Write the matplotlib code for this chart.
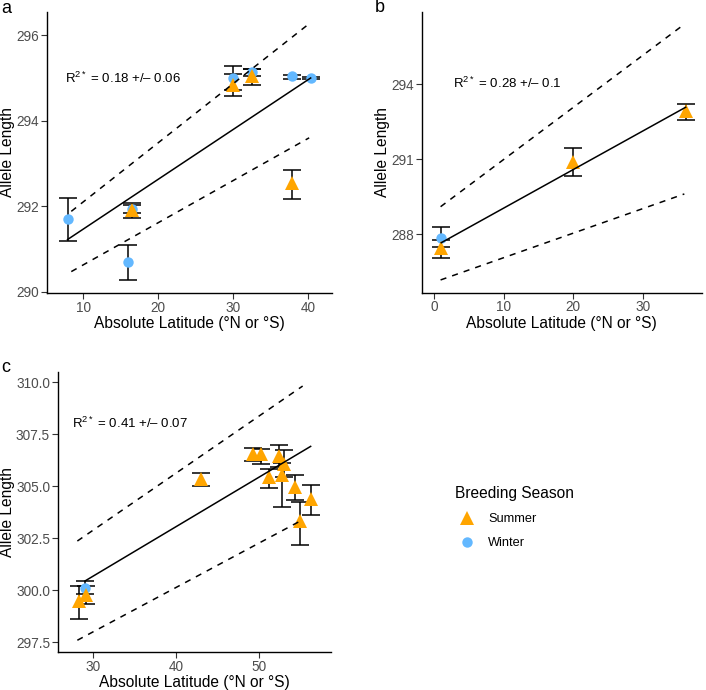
import matplotlib
matplotlib.use('Agg')
import matplotlib.pyplot as plt
from matplotlib.lines import Line2D

plt.rcParams['font.family'] = ['Liberation Sans', 'DejaVu Sans']
plt.rcParams['mathtext.fontset'] = 'custom'
plt.rcParams['mathtext.rm'] = 'Liberation Sans'
plt.rcParams['mathtext.it'] = 'Liberation Sans:italic'

SUMMER_COL = '#FFA500'
WINTER_COL = '#63B8FF'

# ---- panel a ----
a_win_x = [7.9, 15.9, 16.5, 30.0, 32.5, 37.8, 40.3]
a_win_y = [291.69, 290.69, 291.93, 295.0, 295.13, 295.04, 295.0]
a_win_lo = [291.18, 290.28, 291.85, 294.73, 295.05, 294.98, 294.98]
a_win_hi = [292.2, 291.1, 292.02, 295.27, 295.21, 295.08, 295.02]
a_sum_x = [16.5, 30.0, 32.5, 37.8]
a_sum_y = [291.9, 294.84, 295.04, 292.55]
a_sum_lo = [291.73, 294.59, 294.84, 292.17]
a_sum_hi = [292.08, 295.09, 295.22, 292.84]
a_fit_x = [7.9, 40.3]
a_fit_y = [291.22, 295.0]
a_band_x = [8.4, 40.1]
a_upper_y = [291.88, 296.27]
a_lower_y = [290.47, 293.6]

# ---- panel b ----
b_win_x = [1.0]
b_win_y = [287.86]
b_win_lo = [287.5]
b_win_hi = [288.3]
b_sum_x = [1.0, 20.0, 36.2]
b_sum_y = [287.44, 290.9, 292.93]
b_sum_lo = [287.06, 290.33, 292.57]
b_sum_hi = [287.77, 291.44, 293.21]
b_fit_x = [1.0, 36.2]
b_fit_y = [287.66, 293.08]
b_band_x = [0.9, 36.0]
b_upper_y = [289.1, 296.4]
b_lower_y = [286.17, 289.61]

# ---- panel c ----
c_win_x = [29.1]
c_win_y = [300.12]
c_win_lo = [299.84]
c_win_hi = [300.43]
c_sum_x = [28.3, 29.15, 43.0, 49.2, 50.2, 51.2, 52.4, 52.96, 52.76, 54.28, 54.89, 56.17]
c_sum_y = [299.47, 299.78, 305.37, 306.57, 306.54, 305.45, 306.44, 306.06, 305.56, 304.97, 303.33, 304.39]
c_sum_lo = [298.64, 299.33, 305.0, 306.22, 306.09, 304.94, 305.93, 305.45, 304.0, 304.33, 302.16, 303.64]
c_sum_hi = [300.19, 300.2, 305.64, 306.86, 306.81, 305.85, 306.97, 306.73, 306.1, 305.56, 304.25, 305.08]
c_fit_x = [29.08, 56.16]
c_fit_y = [300.45, 306.92]
c_upper_x = [28.16, 55.2]
c_upper_y = [302.37, 309.82]
c_lower_x = [28.16, 55.28]
c_lower_y = [297.6, 303.41]

r2_labels = ['0.18 +/\u2013 0.06', '0.28 +/\u2013 0.1', '0.41 +/\u2013 0.07']

fig = plt.figure(figsize=(7.06, 6.90), dpi=100)
ax_a = fig.add_axes([0.0661, 0.5754, 0.4037, 0.4076])
ax_b = fig.add_axes([0.5973, 0.5758, 0.3966, 0.4072])
ax_c = fig.add_axes([0.0817, 0.0546, 0.3871, 0.4067])


def draw_panel(ax, wx, wy, wlo, whi, sx, sy, slo, shi,
               fit_x, fit_y, up_x, up_y, lo_x, lo_y, ylab_x):
    eb = dict(fmt='none', ecolor='black', elinewidth=1.1, capsize=6.5,
              capthick=1.1, zorder=2)
    ax.errorbar(wx, wy, yerr=[[y - l for y, l in zip(wy, wlo)],
                              [h - y for y, h in zip(wy, whi)]], **eb)
    ax.errorbar(sx, sy, yerr=[[y - l for y, l in zip(sy, slo)],
                              [h - y for y, h in zip(sy, shi)]], **eb)
    ax.plot(wx, wy, 'o', color=WINTER_COL, markersize=7.5, mew=0, zorder=3)
    ax.plot(sx, sy, '^', color=SUMMER_COL, markersize=10, mew=0, zorder=3)
    ax.plot(fit_x, fit_y, color='black', lw=1.1, zorder=4)
    ax.plot(up_x, up_y, color='black', lw=1.1, ls=(0, (4, 4)), zorder=4)
    ax.plot(lo_x, lo_y, color='black', lw=1.1, ls=(0, (4, 4)), zorder=4)
    for s in ['top', 'right']:
        ax.spines[s].set_visible(False)
    for s in ['left', 'bottom']:
        ax.spines[s].set_linewidth(1.0)
        ax.spines[s].set_color('black')
    ax.tick_params(length=4, width=0.8, color='#333333',
                   labelcolor='#4D4D4D', labelsize=9.8, pad=1.5)
    ax.set_xlabel('Absolute Latitude (\u00b0N or \u00b0S)', fontsize=11.2, labelpad=1)
    ax.set_ylabel('Allele Length', fontsize=11.2, va='center')
    # y label centre placed in figure pixels, like the reference
    pos = ax.get_position()
    ax.yaxis.set_label_coords(ylab_x / 706.0, pos.y0 + pos.height / 2,
                              transform=fig.transFigure)


draw_panel(ax_a, a_win_x, a_win_y, a_win_lo, a_win_hi,
           a_sum_x, a_sum_y, a_sum_lo, a_sum_hi,
           a_fit_x, a_fit_y, a_band_x, a_upper_y, a_band_x, a_lower_y, 8)
ax_a.set_xlim(5.12, 43.1)
ax_a.set_ylim(289.97, 296.55)
ax_a.set_xticks([10, 20, 30, 40])
ax_a.set_yticks([290, 292, 294, 296])
ax_a.text(7.5, 294.99, 'R$^{2*}$ = ' + r2_labels[0], fontsize=9.5, va='center', ha='left')

draw_panel(ax_b, b_win_x, b_win_y, b_win_lo, b_win_hi,
           b_sum_x, b_sum_y, b_sum_lo, b_sum_hi,
           b_fit_x, b_fit_y, b_band_x, b_upper_y, b_band_x, b_lower_y, 383)
ax_b.set_xlim(-1.82, 38.5)
ax_b.set_ylim(285.66, 296.9)
ax_b.set_xticks([0, 10, 20, 30])
ax_b.set_yticks([288, 291, 294])
ax_b.text(2.7, 294.04, 'R$^{2*}$ = ' + r2_labels[1], fontsize=9.5, va='center', ha='left')

draw_panel(ax_c, c_win_x, c_win_y, c_win_lo, c_win_hi,
           c_sum_x, c_sum_y, c_sum_lo, c_sum_hi,
           c_fit_x, c_fit_y, c_upper_x, c_upper_y, c_lower_x, c_lower_y, 8)
ax_c.set_xlim(25.8, 58.6)
ax_c.set_ylim(297.02, 310.51)
ax_c.set_xticks([30, 40, 50])
ax_c.set_yticks([297.5, 300.0, 302.5, 305.0, 307.5, 310.0])
ax_c.set_yticklabels(['%.1f' % v for v in [297.5, 300.0, 302.5, 305.0, 307.5, 310.0]])
ax_c.text(27.5, 308.01, 'R$^{2*}$ = ' + r2_labels[2], fontsize=9.5, va='center', ha='left')

# panel letters
fig.text(0.0095, 0.988, 'a', fontsize=13, ha='center', va='center')
fig.text(0.538, 0.989, 'b', fontsize=13, ha='center', va='center')
fig.text(0.0075, 0.468, 'c', fontsize=13, ha='center', va='center')

handles = [Line2D([], [], marker='^', ls='', color=SUMMER_COL, markersize=10, mew=0),
           Line2D([], [], marker='o', ls='', color=WINTER_COL, markersize=7.5, mew=0)]
fig.legend(handles, ['Summer', 'Winter'], title='Breeding Season',
           loc='upper left', bbox_to_anchor=(0.635, 0.305), frameon=False,
           fontsize=9.2, title_fontsize=11.2, alignment='left',
           handletextpad=0.6, labelspacing=0.95, borderpad=0)

fig.savefig('out.png', dpi=100)
